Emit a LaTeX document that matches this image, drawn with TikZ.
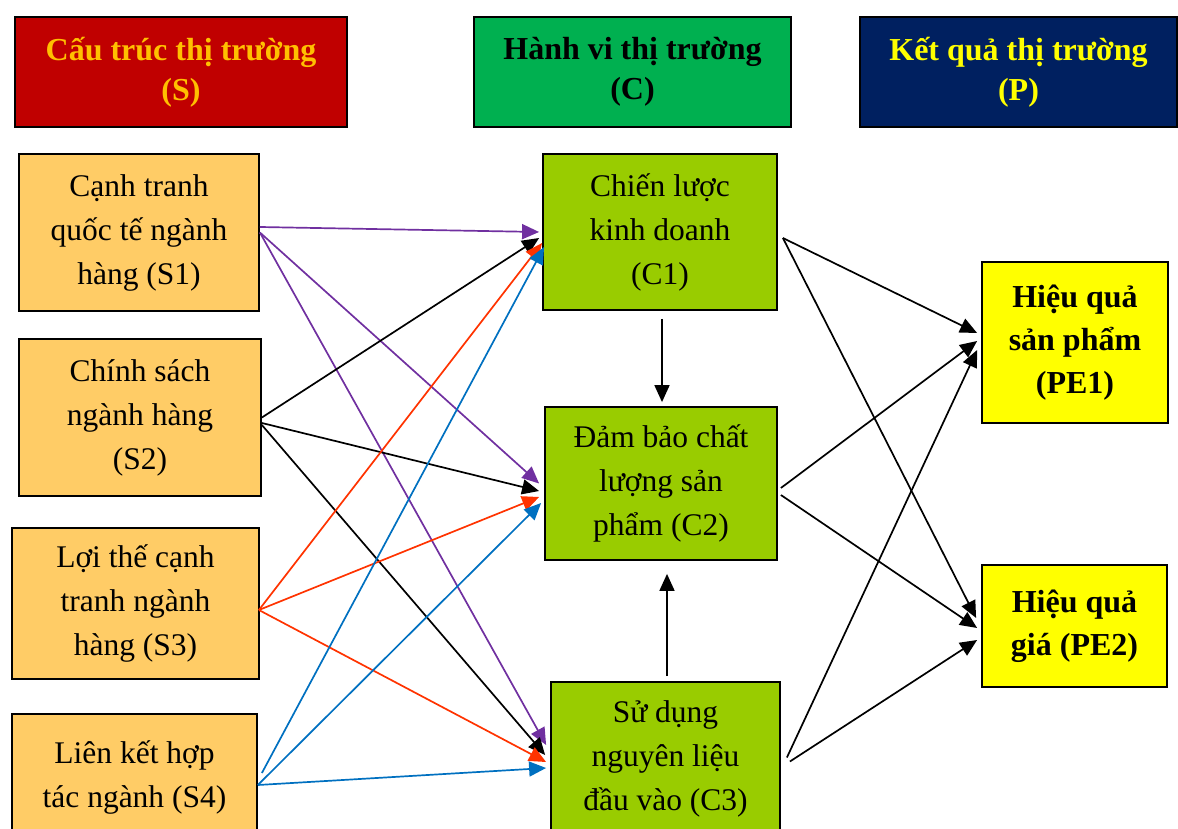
\documentclass[tikz,border=0pt]{standalone}
\usepackage{fontspec}
\setmainfont{Liberation Serif}
\usetikzlibrary{arrows.meta}
\definecolor{hdrS}{HTML}{C00000}
\definecolor{hdrStext}{HTML}{FFC000}
\definecolor{hdrC}{HTML}{00B050}
\definecolor{hdrP}{HTML}{002060}
\definecolor{sbox}{HTML}{FFCC66}
\definecolor{cbox}{HTML}{99CC00}
\definecolor{pbox}{HTML}{FFFF00}
\definecolor{lnpur}{HTML}{7030A0}
\definecolor{lnred}{HTML}{FF3300}
\definecolor{lnblue}{HTML}{0070C0}
\tikzset{
  box/.style={draw=black, line width=1.8pt, align=center, inner sep=0pt,
    font=\fontsize{31.5}{44}\selectfont},
  header/.style={box, minimum height=110pt, font=\bfseries\fontsize{32}{40}\selectfont},
  sfac/.style={box, fill=sbox},
  cfac/.style={box, fill=cbox},
  pfac/.style={box, fill=pbox, font=\bfseries\fontsize{32}{43}\selectfont},
  link/.style={line width=1.7pt, -{Triangle[length=17pt,width=15pt]}},
}
\begin{document}
\begin{tikzpicture}[x=1pt,y=-1pt]
\useasboundingbox (0,0) rectangle (1178,829);

% column headers
\node[header, fill=hdrS, text=hdrStext, minimum width=332pt] (hS) at (181,72) {Cấu trúc thị trường\\(S)};
\node[header, fill=hdrC, text=black, minimum width=317pt] (hC) at (632.5,72) {Hành vi thị trường\\(C)};
\node[header, fill=hdrP, text=pbox, minimum width=317pt] (hP) at (1018.5,72) {Kết quả thị trường\\(P)};

% structure factors
\node[sfac, minimum width=240pt, minimum height=157pt] (S1) at (139,232.5) {Cạnh tranh\\quốc tế ngành\\hàng (S1)};
\node[sfac, minimum width=242pt, minimum height=157pt] (S2) at (140,417.5) {Chính sách\\ngành hàng\\(S2)};
\node[sfac, minimum width=247pt, minimum height=151pt] (S3) at (135.5,603.5) {Lợi thế cạnh\\tranh ngành\\hàng (S3)};
\node[sfac, minimum width=245pt, minimum height=126pt] (S4) at (134.5,777) {Liên kết hợp\\tác ngành (S4)};

% conduct factors
\node[cfac, minimum width=234pt, minimum height=156pt] (C1) at (660,232) {Chiến lược\\kinh doanh\\(C1)};
\node[cfac, minimum width=232pt, minimum height=153pt] (C2) at (661,483.5) {Đảm bảo chất\\lượng sản\\phẩm (C2)};
\node[cfac, minimum width=229pt, minimum height=153pt] (C3) at (665.5,758.5) {Sử dụng\\nguyên liệu\\đầu vào (C3)};

% performance factors
\node[pfac, minimum width=186pt, minimum height=161pt] (PE1) at (1075,342.5) {Hiệu quả\\sản phẩm\\(PE1)};
\node[pfac, minimum width=185pt, minimum height=122pt] (PE2) at (1074.5,626) {Hiệu quả\\giá (PE2)};

% S1 links
\draw[link, lnpur] ([yshift=5.5]S1.east) -- ([xshift=-3]C1.west);
\draw[link, lnpur] (S1.east) -- ([xshift=-5]C2.west);
\draw[link, lnpur] (S1.east) -- ([xshift=-4,yshift=13.5]C3.west);
% S2 links
\draw[link, black] (S2.east) -- ([xshift=-3,yshift=-6]C1.west);
\draw[link, black] ([yshift=-5.5]S2.east) -- ([xshift=-5,yshift=-7.5]C2.west);
\draw[link, black] ([yshift=-7.5]S2.east) -- ([xshift=-5,yshift=3.5]C3.west);
% S3 links
\draw[link, lnred] ([xshift=-1,yshift=-6.5]S3.east) -- ([yshift=-11]C1.west);
\draw[link, lnred] ([xshift=-1,yshift=-6.5]S3.east) -- ([xshift=-5,yshift=-13.5]C2.west);
\draw[link, lnred] ([xshift=-1,yshift=-6.5]S3.east) -- ([xshift=-4,yshift=-3.5]C3.west);
% S4 links
\draw[link, lnblue] ([xshift=4,yshift=4]S4.east) -- ([xshift=2,yshift=-15]C1.west);
\draw[link, lnblue] ([yshift=-8]S4.east) -- ([xshift=-3,yshift=-19.5]C2.west);
\draw[link, lnblue] ([yshift=-8]S4.east) -- ([xshift=-4,yshift=-9.5]C3.west);

% links between conduct factors
\draw[link, black] ([xshift=2,yshift=-8]C1.south) -- ([xshift=1,yshift=4]C2.north);
\draw[link, black] ([xshift=1.5,yshift=5]C3.north) -- ([xshift=6,yshift=-13]C2.south);

% links to performance
\draw[link, black] ([xshift=5,yshift=-6]C1.east) -- ([xshift=-4,yshift=9.5]PE1.west);
\draw[link, black] ([xshift=5,yshift=-6]C1.east) -- ([xshift=-5,yshift=8]PE2.west);
\draw[link, black] ([xshift=3,yshift=-4.5]C2.east) -- ([xshift=-4,yshift=1.5]PE1.west);
\draw[link, black] ([xshift=3,yshift=-11.5]C2.east) -- ([xshift=-4,yshift=-2]PE2.west);
\draw[link, black] ([xshift=6,yshift=1]C3.east) -- ([xshift=-4,yshift=-7.5]PE1.west);
\draw[link, black] ([xshift=9,yshift=-3]C3.east) -- ([xshift=-4,yshift=-14]PE2.west);
\end{tikzpicture}
\end{document}
